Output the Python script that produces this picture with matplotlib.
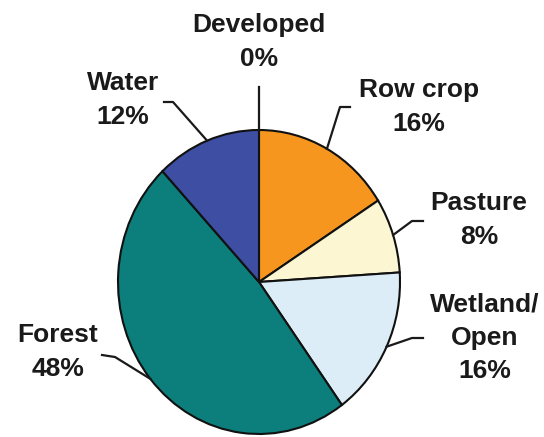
import numpy as np
import matplotlib
matplotlib.use('Agg')
import matplotlib.pyplot as plt

# land use shares (%)
labels = ['Developed', 'Row crop', 'Pasture', 'Wetland/\nOpen', 'Forest', 'Water']
values = [0, 16, 8, 16, 48, 12]
colors = ['#8a5a2b', '#F7961E', '#FCF7D2', '#DCEDF8', '#0C7E7B', '#3D4EA3']

# label text centres in pixels (x, y from top)
text_pos = [(259, 42), (419, 107), (479, 220), (485, 338), (58, 352), (123, 100)]
# leader elbow / end points in pixels
leader_pts = [
    [(259, 87)],
    [(340, 107), (350, 107)],
    [(412, 221), (423, 221)],
    [(412, 338), (423, 338)],
    [(115, 357), (102, 355)],
    [(173, 102), (164, 102)],
]

W, H = 544, 437
cx, cy, rx, ry = 259, 282, 141, 152

plt.rcParams['font.family'] = ['Liberation Sans', 'DejaVu Sans']

fig = plt.figure(figsize=(W / 100, H / 100), dpi=100)
ax = fig.add_axes([(cx - rx) / W, (H - cy - ry) / H, 2 * rx / W, 2 * ry / H])

wedges, _ = ax.pie(values, colors=colors, startangle=90, counterclock=False,
                   radius=1, wedgeprops=dict(edgecolor='#111111', linewidth=1.5))
ax.set_aspect('auto')
ax.set_xlim(-1, 1)
ax.set_ylim(-1, 1)
ax.axis('off')


def to_data(p):
    return ((p[0] - cx) / rx, (cy - p[1]) / ry)


for w, lab, v, tp, pts in zip(wedges, labels, values, text_pos, leader_pts):
    ang = np.deg2rad((w.theta1 + w.theta2) / 2)
    xs = [np.cos(ang)] + [to_data(p)[0] for p in pts]
    ys = [np.sin(ang)] + [to_data(p)[1] for p in pts]
    ax.plot(xs, ys, color='#1a1a1a', lw=1.6, clip_on=False)
    tx, ty = to_data(tp)
    ax.text(tx, ty, f'{lab}\n{v}%', ha='center', va='center', fontsize=19,
            fontweight='bold', color='#1a1a1a', linespacing=1.5)

fig.savefig('out.png', dpi=100)
